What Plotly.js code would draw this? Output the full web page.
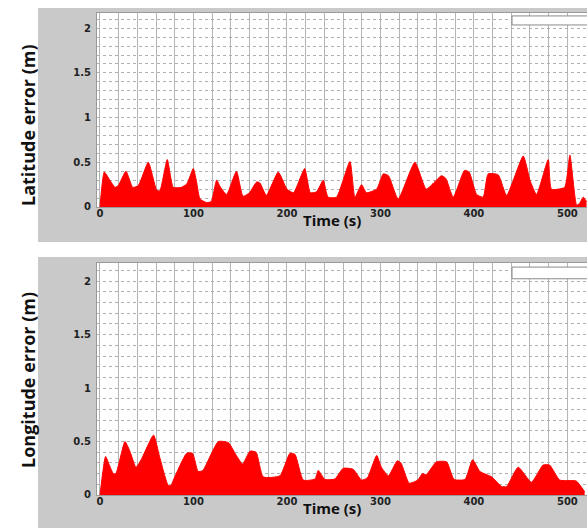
<!DOCTYPE html>
<html><head><meta charset="utf-8">
<script src="https://cdn.plot.ly/plotly-3.0.1.min.js"></script>
<style>html,body{margin:0;padding:0;background:#fff}#chart{width:587px;height:531px}</style>
</head><body><div id="chart"></div>
<script>
const latTime = [0, 4.6, 10, 16, 19.6, 27.8, 35, 41, 51.7, 60.6, 64, 72, 78.4, 87, 93, 99.8, 103, 107, 114, 119, 124.8, 129, 135.5, 146, 153, 160, 167.6, 171, 178, 190.7, 200, 207, 219, 225, 231.7, 238.8, 244, 253, 267.4, 272.7, 279.8, 285, 296, 303, 308.6, 319, 336.9, 349, 358, 365.3, 370, 377.9, 390, 395, 402.9, 409.9, 415.3, 426, 435, 452.8, 460, 467, 479.5, 483, 497, 502.7, 509.9, 513, 517, 520.5];
const latError = [0, 0.39, 0.31, 0.22, 0.24, 0.40, 0.22, 0.24, 0.50, 0.19, 0.18, 0.53, 0.22, 0.22, 0.26, 0.43, 0.30, 0.09, 0.05, 0.06, 0.30, 0.22, 0.14, 0.40, 0.12, 0.16, 0.28, 0.27, 0.13, 0.39, 0.20, 0.16, 0.43, 0.16, 0.17, 0.30, 0.11, 0.11, 0.51, 0.11, 0.25, 0.16, 0.20, 0.37, 0.35, 0.09, 0.50, 0.20, 0.28, 0.35, 0.32, 0.11, 0.41, 0.39, 0.14, 0.11, 0.37, 0.36, 0.13, 0.57, 0.30, 0.14, 0.53, 0.20, 0.22, 0.58, 0.02, 0.04, 0.11, 0.06];
const lonTime = [0, 6, 10, 14.3, 17, 26.7, 32, 38.5, 44.6, 57.3, 63.7, 73, 76, 79, 92.7, 99, 105, 110, 126.6, 137.4, 144.5, 152.5, 160.4, 167, 174.6, 192.5, 203.2, 208.6, 217.5, 230, 233.5, 240.6, 251.3, 260.2, 270.9, 279.8, 286, 296, 301, 308.6, 318, 322, 330.8, 340, 345, 349, 360, 370.8, 378.8, 390.5, 398.6, 406.5, 419, 429.6, 435, 447.4, 461.6, 474, 481, 491.8, 509.6, 518.5];
const lonError = [0, 0.36, 0.28, 0.20, 0.20, 0.50, 0.41, 0.26, 0.34, 0.56, 0.36, 0.09, 0.09, 0.15, 0.39, 0.39, 0.22, 0.23, 0.50, 0.49, 0.39, 0.29, 0.41, 0.40, 0.17, 0.18, 0.39, 0.38, 0.14, 0.15, 0.23, 0.146, 0.15, 0.25, 0.24, 0.14, 0.16, 0.37, 0.26, 0.18, 0.32, 0.30, 0.11, 0.14, 0.20, 0.19, 0.31, 0.31, 0.146, 0.146, 0.33, 0.22, 0.17, 0.08, 0.08, 0.26, 0.12, 0.28, 0.28, 0.14, 0.13, 0.03];
const yTickVals = [0, 0.5, 1, 1.5, 2];
const yTickText = ['0', '0.5', '1', '1.5', '2'];
const xTickVals = [0, 100, 200, 300, 400, 500];
const xTickText = ['0', '100', '200', '300', '400', '500'];
const yTitles = ['Latitude error (m)', 'Longitude error (m)'];
const xTitle = 'Time (s)';

const tickFont = {family: 'DejaVu Sans', size: 10, color: '#222', weight: 'bold'};
const titleFont = {family: 'Open Sans', size: 18, color: '#111', weight: 'bold'};
const xTitleFont = {family: 'Open Sans', size: 15, color: '#111', weight: 'bold'};

function xAxis(anchor) {
  return {
    anchor: anchor, range: [-3.2, 521], tickmode: 'array', tickvals: xTickVals, ticktext: xTickText,
    tickfont: tickFont, ticklabelstandoff: -3, showgrid: false, zeroline: false,
    showline: true, linecolor: '#9a9a9a', linewidth: 1, mirror: true, ticks: '',
    minor: {dtick: 20, tick0: 0, showgrid: true, gridcolor: '#b5b5b5', gridwidth: 1},
    automargin: false, fixedrange: true
  };
}
function yAxis(anchor, domain) {
  return {
    anchor: anchor, domain: domain, range: [0, 2.17], tickmode: 'array', tickvals: yTickVals, ticktext: yTickText,
    tickfont: tickFont, ticklabelstandoff: 3, showgrid: false, zeroline: false,
    showline: true, linecolor: '#9a9a9a', linewidth: 1, mirror: true, ticks: '',
    minor: {dtick: 0.1, tick0: 0, showgrid: true, gridcolor: '#b0b0b0', gridwidth: 1, griddash: 'dot'},
    automargin: false, fixedrange: true
  };
}

const fillStyle = {type: 'scatter', mode: 'lines', fill: 'tozeroy', fillcolor: '#ff0000',
  line: {color: '#ff0000', width: 1, shape: 'spline', smoothing: 0.5}, hoverinfo: 'skip', showlegend: false};
const traces = [
  Object.assign({x: latTime, y: latError, xaxis: 'x', yaxis: 'y'}, fillStyle),
  Object.assign({x: lonTime, y: lonError, xaxis: 'x2', yaxis: 'y2'}, fillStyle)
];

const gray = '#c9c9c9';
const shapes = [
  {type: 'rect', xref: 'paper', yref: 'paper', x0: -0.1204, x1: 1.05, y0: 0.5443, y1: 0.9849, fillcolor: gray, line: {width: 0}, layer: 'below'},
  {type: 'rect', xref: 'paper', yref: 'paper', x0: -0.1204, x1: 1.05, y0: 0.0057, y1: 0.5160, fillcolor: gray, line: {width: 0}, layer: 'below'},
  {type: 'rect', xref: 'x domain', yref: 'y domain', x0: 0, x1: 1, y0: 0, y1: 1, fillcolor: '#ffffff', line: {width: 0}, layer: 'below'},
  {type: 'rect', xref: 'x2 domain', yref: 'y2 domain', x0: 0, x1: 1, y0: 0, y1: 1, fillcolor: '#ffffff', line: {width: 0}, layer: 'below'},
  {type: 'rect', xref: 'paper', yref: 'paper', x0: 0.847, x1: 1.01, y0: 0.953, y1: 0.970, fillcolor: '#ffffff', line: {width: 1, color: '#8a8a8a'}, layer: 'above'},
  {type: 'rect', xref: 'paper', yref: 'paper', x0: 0.847, x1: 1.01, y0: 0.475, y1: 0.497, fillcolor: '#ffffff', line: {width: 1, color: '#8a8a8a'}, layer: 'above'}
];

const annotations = [
  {text: yTitles[0], xref: 'paper', yref: 'paper', x: -0.1408, y: 0.7646, textangle: -90, showarrow: false, font: titleFont, xanchor: 'center', yanchor: 'middle'},
  {text: yTitles[1], xref: 'paper', yref: 'paper', x: -0.1408, y: 0.2844, textangle: -90, showarrow: false, font: titleFont, xanchor: 'center', yanchor: 'middle'},
  {text: xTitle, xref: 'paper', yref: 'paper', x: 0.4796, y: 0.5857, showarrow: false, font: xTitleFont, xanchor: 'center', yanchor: 'middle'},
  {text: xTitle, xref: 'paper', yref: 'paper', x: 0.4796, y: 0.0433, showarrow: false, font: xTitleFont, xanchor: 'center', yanchor: 'middle'}
];

const layout = {
  width: 587, height: 531,
  margin: {l: 97, r: 0, t: 0, b: 0},
  paper_bgcolor: '#ffffff', plot_bgcolor: '#ffffff',
  showlegend: false,
  xaxis: xAxis('y'),
  yaxis: yAxis('x', [0.6102, 0.9755]),
  xaxis2: xAxis('y2'),
  yaxis2: yAxis('x2', [0.0678, 0.5047]),
  shapes: shapes,
  annotations: annotations
};

Plotly.newPlot('chart', traces, layout, {displayModeBar: false, staticPlot: true});
</script>
</body></html>
